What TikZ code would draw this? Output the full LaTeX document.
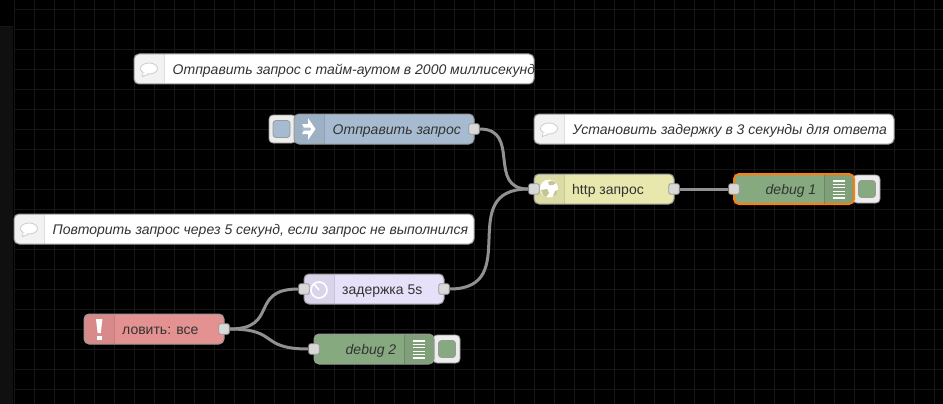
\documentclass[tikz,border=0pt]{standalone}
\usepackage{fontspec}
\setmainfont{Liberation Sans}
\usepackage{tikz}
\usetikzlibrary{arrows.meta,calc,positioning}

\definecolor{gridgray}{HTML}{161616}
\definecolor{sidegray}{HTML}{101010}
\definecolor{edgegray}{HTML}{999999}
\definecolor{wiregray}{HTML}{919191}
\definecolor{portgray}{HTML}{D9D9D9}
\definecolor{textgray}{HTML}{333333}
\definecolor{injectblue}{HTML}{A6BBCF}
\definecolor{httpyellow}{HTML}{E7E7AE}
\definecolor{debuggreen}{HTML}{87A980}
\definecolor{catchred}{HTML}{E49191}
\definecolor{delaylilac}{HTML}{E6E0F8}
\definecolor{selectorange}{HTML}{FF7F0E}

\begin{document}
\begin{tikzpicture}[
    x=1pt,y=-1pt,
    flownode/.style={draw=edgegray,line width=1pt,rounded corners=5pt,inner sep=0pt,outer sep=0pt,minimum height=30pt},
    notenode/.style={flownode,fill=white},
    port/.style={draw=edgegray,line width=.8pt,fill=portgray,rounded corners=2pt,inner sep=0pt,minimum size=10.5pt},
    button/.style={draw=edgegray,line width=.8pt,fill=white!93!black,rounded corners=4pt,inner sep=0pt,minimum width=27pt,minimum height=28pt},
    buttonkey/.style={draw=edgegray,line width=.8pt,rounded corners=3pt,inner sep=0pt,minimum size=17pt},
    labelnode/.style={font=\fontsize{14}{16}\selectfont,text=textgray,inner sep=0pt},
    notelabel/.style={labelnode,font=\fontsize{14}{16}\selectfont\itshape},
    wire/.style={draw=wiregray,line width=3pt},
    tabfill/.style={fill=black,fill opacity=.05}
  ]
    % canvas and grid
    \useasboundingbox (0,0) rectangle (943,404);
    \fill[black] (0,0) rectangle (943,404);
    \foreach \gx in {14,34,...,934} \draw[gridgray,line width=.8pt] (\gx,0)--(\gx,404);
    \foreach \gy in {9,29,...,389} \draw[gridgray,line width=.8pt] (14,\gy)--(943,\gy);
    \fill[sidegray] (0,26) rectangle (13,404);
    \draw[gridgray,line width=.8pt] (0,26)--(13,26);

    % comment nodes
    \node[notenode,minimum width=400pt] (sendnote) at (334,69) {};
    \node[notenode,minimum width=360pt] (waitnote) at (714,129) {};
    \node[notenode,minimum width=460pt] (retrynote) at (244,229) {};
    \node[notelabel,anchor=west] (sendtext) at (172.5,70.7) {Отправить запрос с тайм-аутом в 2000 миллисекунд};
    \node[notelabel,anchor=west] (waittext) at (572.5,130.7) {Установить задержку в 3 секунды для ответа};
    \node[notelabel,anchor=west] (retrytext) at (52.5,230.7) {Повторить запрос через 5 секунд, если запрос не выполнился};

    % side buttons go under their nodes
    \node[button] (injectbtn) at (282.5,129) {};
    \node[buttonkey,fill=injectblue] (injectkey) at (281.5,129) {};
    \node[button] (debugonebtn) at (866.5,189) {};
    \node[buttonkey,fill=debuggreen] (debugonekey) at (867,189) {};
    \node[button] (debugtwobtn) at (446.5,349) {};
    \node[buttonkey,fill=debuggreen] (debugtwokey) at (447,349) {};

    % flow nodes
    \node[flownode,fill=injectblue,minimum width=180pt] (inject) at (384,129) {};
    \node[flownode,fill=httpyellow,minimum width=140pt] (http) at (604,189) {};
    \node[flownode,fill=debuggreen,draw=selectorange,line width=2pt,minimum width=120pt] (debugone) at (794,189) {};
    \node[flownode,fill=delaylilac,minimum width=140pt] (delay) at (374,289) {};
    \node[flownode,fill=catchred,minimum width=140pt] (catch) at (154,329) {};
    \node[flownode,fill=debuggreen,minimum width=120pt] (debugtwo) at (374,349) {};

    % icon tabs, left side then right side
    \foreach \tx/\ty in {134.5/69,534.5/129,14.5/229,294.5/129,534.5/189,304.5/289,84.5/329} {
      \fill[tabfill,rounded corners=4.5pt] (\tx+29.5,\ty-14.5)--(\tx,\ty-14.5)--(\tx,\ty+14.5)[sharp corners]--(\tx+29.5,\ty+14.5)--cycle;
      \draw[black,draw opacity=.12,line width=.8pt] (\tx+29.5,\ty-14.5)--(\tx+29.5,\ty+14.5);
    }
    \foreach \tx/\ty in {823.5/189,403.5/349} {
      \fill[tabfill] (\tx+.5,\ty-14.5)--(\tx+26,\ty-14.5)--(\tx+30,\ty-10.5)--(\tx+30,\ty+10.5)--(\tx+26,\ty+14.5)--(\tx+.5,\ty+14.5)--cycle;
      \draw[black,draw opacity=.15,line width=.8pt] (\tx+.5,\ty-14.5)--(\tx+.5,\ty+14.5);
    }

    % speech bubbles
    \foreach \bx/\by in {149/69,549/129,29/229} {
      \draw[white!80!black,fill=white,line width=.8pt] (\bx-6,\by+4)--(\bx-6.5,\by+7.5)--(\bx-1,\by+5.5);
      \draw[white!80!black,fill=white,line width=.8pt] (\bx,\by-.5) ellipse[x radius=8.5,y radius=5.5];
      \fill[white] (\bx-5.5,\by+3.5)--(\bx-5.7,\by+6)--(\bx-1.5,\by+4.5)--cycle;
    }

    % node icons
    \fill[white] (302,124)--(308,124)--(308,118)--(315.5,129)--(308,140)--(308,134)--(302,134)--(304.5,129)--cycle;
    \fill[injectblue] (302,127.5)--(310,127.5)--(311,129)--(310,130.5)--(302,130.5)--cycle;
    \fill[white] (549,188.5) circle (9);
    \fill[httpyellow!85!black] (548,182)--(552,180.5)--(556,183)--(553,185)--(549,185)--cycle;
    \fill[httpyellow!85!black] (541,190)--(547,189)--(549,193)--(546,197)--(543,195)--cycle;
    \fill[httpyellow!85!black] (555,191)--(558,190)--(556,195)--(553,196)--cycle;
    \draw[white,line width=1.6pt] (319,290) circle (8);
    \draw[white,line width=1.6pt] (319,290)--(314,284);
    \fill[white] (96,319)--(102.4,319)--(100.8,333)--(97.6,333)--cycle;
    \fill[white] (96.5,335.5) rectangle (101.9,340);
    \foreach \sy in {181,184.4,...,198.5} {
      \draw[white,line width=1.3pt] (833,\sy)--(845,\sy);
    }
    \foreach \sy in {341,344.4,...,358.5} {
      \draw[white,line width=1.3pt] (413,\sy)--(425,\sy);
    }

    % node labels
    \node[notelabel,anchor=west] (injecttext) at (332.5,130.7) {Отправить запрос};
    \node[labelnode,anchor=west] (httptext) at (572,190.7) {http запрос};
    \node[notelabel,anchor=east] (debugonetext) at (816.5,190.7) {debug 1};
    \node[labelnode,anchor=west] (delaytext) at (342,290.7) {задержка 5s};
    \node[labelnode,anchor=west] (catchtext) at (122,330.7) {ловить: все};
    \node[notelabel,anchor=east] (debugtwotext) at (396.5,350.7) {debug 2};

    % ports
    \node[port] (injectout) at (inject.east) {};
    \node[port] (httpin) at (http.west) {};
    \node[port] (httpout) at (http.east) {};
    \node[port] (debugonein) at (debugone.west) {};
    \node[port] (delayin) at (delay.west) {};
    \node[port] (delayout) at (delay.east) {};
    \node[port] (catchout) at (catch.east) {};
    \node[port] (debugtwoin) at (debugtwo.west) {};

    % wires
    \draw[wire] (injectout.east) .. controls +(42,0) and +(-42,0) .. (httpin.west);
    \draw[wire] (delayout.east) .. controls +(75,0) and +(-75,0) .. (httpin.west);
    \draw[wire] (httpout.east) -- (debugonein.west);
    \draw[wire] (catchout.east) .. controls +(50,0) and +(-50,0) .. (delayin.west);
    \draw[wire] (catchout.east) .. controls +(50,0) and +(-50,0) .. (debugtwoin.west);
  \end{tikzpicture}
\end{document}
